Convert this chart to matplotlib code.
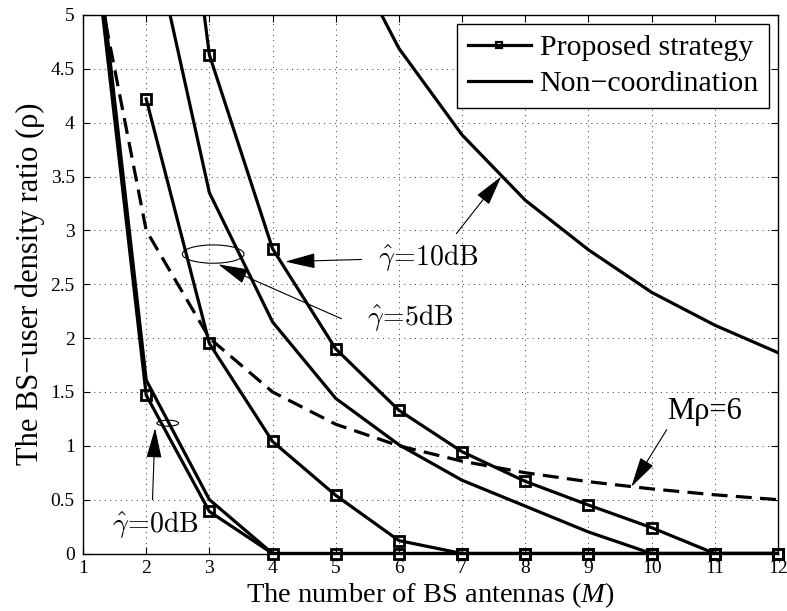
import matplotlib
matplotlib.use('Agg')
import matplotlib.pyplot as plt
from matplotlib.patches import Ellipse
from matplotlib.lines import Line2D
import numpy as np

plt.rcParams['font.family'] = ['Liberation Serif', 'DejaVu Serif']
plt.rcParams['mathtext.fontset'] = 'custom'
plt.rcParams['mathtext.rm'] = 'Liberation Serif'
plt.rcParams['mathtext.it'] = 'Liberation Serif:italic'

# Number of BS antennas
M = [1, 2, 3, 4, 5, 6, 7, 8, 9, 10, 11, 12]

# Proposed strategy (squares)
prop_0dB = [6.6, 1.47, 0.39, 0, 0, 0, 0, 0, 0, 0, 0, 0]
prop_5dB = [np.nan, 4.22, 1.95, 1.04, 0.54, 0.12, 0, 0, 0, 0, 0, 0]
prop_10dB = [np.nan, 9.2, 4.63, 2.83, 1.90, 1.33, 0.945, 0.67, 0.45, 0.24, 0, 0]

# Non-coordination (plain lines)
non_0dB = [6.8, 1.61, 0.50, 0, 0, 0, 0, 0, 0, 0, 0, 0]
non_5dB = [np.nan, 6.0, 3.35, 2.15, 1.44, 1.01, 0.68, 0.44, 0.20, 0, 0, 0]
non_10dB = [np.nan, np.nan, np.nan, np.nan, 5.82, 4.69, 3.886, 3.28, 2.82, 2.425, 2.12, 1.865]

# M*rho = 6 reference
mrho6 = [6.0, 3.0, 2.0, 1.5, 1.2, 1.0, 0.857, 0.75, 0.667, 0.6, 0.545, 0.5]

YMAX = 5

fig = plt.figure(figsize=(7.87, 6.11), dpi=100)
ax = fig.add_axes([0.1055, 0.0941, 0.883, 0.8814])

lw = 2.3
mk = dict(marker='s', ms=7.5, mew=2, mfc='none', mec='k')

for y in (prop_0dB, prop_5dB, prop_10dB):
    ax.plot(M, y, '-', color='k', lw=lw)
    ym = np.array(y, dtype=float)
    ym[ym > YMAX] = np.nan
    ax.plot(M, ym, linestyle='none', clip_on=False, zorder=3, **mk)
for y in (non_0dB, non_5dB, non_10dB):
    ax.plot(M, y, '-', color='k', lw=lw)
ax.plot(M, mrho6, '--', color='k', lw=lw, dashes=(5, 2.6))

ax.set_xlim(1, 12)
ax.set_ylim(0, YMAX)
ax.set_xticks(range(1, 13))
ax.set_yticks(np.arange(0, 5.01, 0.5))
ax.set_yticklabels(['0', '0.5', '1', '1.5', '2', '2.5', '3', '3.5', '4', '4.5', '5'])
ax.tick_params(direction='in', length=5, width=0.8, top=True, right=True,
               labelsize=14)
ax.tick_params(axis='x', pad=5)
ax.tick_params(axis='y', pad=6)
ax.grid(True, color='0.2', lw=0.7, linestyle=(0, (1, 4.5)))
for s in ax.spines.values():
    s.set_linewidth(1.0)

ax.set_xlabel('The number of BS antennas ($\\mathit{M}$)', fontsize=20.5)
ax.xaxis.set_label_coords(0.5, -0.05)
ax.set_ylabel('The BS\u2212user density ratio (\u03c1)', fontsize=22, labelpad=4)

handles = [Line2D([], [], color='k', lw=lw, marker='s', ms=5, mew=1.6, mfc='none'),
           Line2D([], [], color='k', lw=lw)]
leg = ax.legend(handles, ['Proposed strategy', 'Non\u2212coordination'],
                loc='upper right', bbox_to_anchor=(0.9875, 0.983), borderaxespad=0,
                fontsize=21.5, fancybox=False, edgecolor='k', framealpha=1,
                handlelength=2.1, handletextpad=0.3, labelspacing=0.3,
                borderpad=0.35)
leg.get_frame().set_linewidth(1.0)

arrow = dict(arrowstyle='-|>,head_length=0.95,head_width=0.24', color='k', lw=0.8,
             shrinkA=0, shrinkB=0, mutation_scale=20)
mfs = 20

# gamma = 10 dB
ax.text(6.47, 2.75, r'$\hat{\gamma}\!=\!10\mathrm{dB}$', fontsize=mfs, math_fontfamily='cm',
        ha='center', va='center')
ax.annotate('', xy=(4.2, 2.71), xytext=(5.41, 2.73), arrowprops=arrow)
ax.annotate('', xy=(7.62, 3.50), xytext=(6.91, 2.97), arrowprops=arrow)

# gamma = 5 dB
ax.add_patch(Ellipse((3.06, 2.78), 0.976, 0.17, fill=False, lw=0.8, color='k'))
ax.text(6.18, 2.19, r'$\hat{\gamma}\!=\!5\mathrm{dB}$', fontsize=mfs, math_fontfamily='cm',
        ha='center', va='center')
ax.annotate('', xy=(3.14, 2.685), xytext=(5.09, 2.18), arrowprops=arrow)

# gamma = 0 dB
ax.add_patch(Ellipse((2.34, 1.21), 0.343, 0.056, fill=False, lw=0.8, color='k'))
ax.text(2.14, 0.27, r'$\hat{\gamma}\!=\!0\mathrm{dB}$', fontsize=mfs, math_fontfamily='cm',
        ha='center', va='center')
ax.annotate('', xy=(2.14, 1.165), xytext=(2.10, 0.50), arrowprops=arrow)

# M rho = 6
ax.text(10.84, 1.32, 'M\u03c1=6', fontsize=22, ha='center', va='center')
ax.annotate('', xy=(9.68, 0.62), xytext=(10.24, 1.15), arrowprops=arrow)

fig.savefig('out.png', dpi=100)
